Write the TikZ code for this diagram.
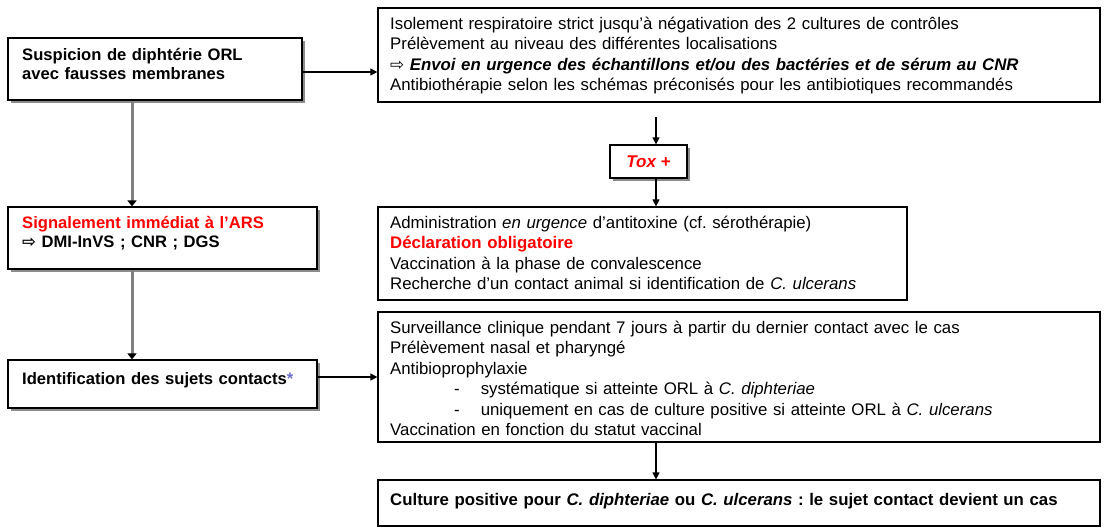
\documentclass[tikz,border=0pt]{standalone}
\usepackage{fontspec}
\setmainfont{Liberation Sans}
\newfontfamily\symfont{DejaVu Sans}
\usetikzlibrary{arrows.meta,shadows,calc}
\frenchspacing
\definecolor{redt}{RGB}{255,0,0}
\definecolor{starblue}{RGB}{110,110,210}
\newcommand{\rarr}{{\symfont\char"21E8}}
\tikzset{
  box/.style={draw=black, line width=1.2pt, fill=white, inner sep=0pt},
  shad/.style={drop shadow={shadow xshift=3pt, shadow yshift=-3pt, fill=black!45, opacity=1}},
  rtxt/.style={anchor=base west, inner sep=0pt, align=left, text width=700pt,
               font=\fontsize{16.8}{20.5}\selectfont},
  ltxt/.style={anchor=base west, inner sep=0pt, align=left, text width=290pt,
               font=\fontsize{16.6}{19.5}\selectfont\bfseries},
  arr/.style={line width=1.2pt, -{Triangle[length=7pt,width=7pt]}},
  garr/.style={line width=3pt, draw=black!50, -{Triangle[length=6pt,width=9pt,fill=black,color=black]}},
}
\begin{document}
\begin{tikzpicture}[x=1pt,y=-1pt]
\useasboundingbox (0,0) rectangle (1112,531);
% left column boxes
\node[box,shad,minimum width=294pt,minimum height=62pt] (b1) at (155,69) {};
\node[box,shad,minimum width=309pt,minimum height=62pt] (sig) at (162.5,238) {};
\node[box,shad,minimum width=309pt,minimum height=48pt] (id) at (162.5,384) {};
\node[ltxt] (b1t) at (22,60) {Suspicion de diphtérie ORL\\avec fausses membranes};
\node[ltxt] (sigt) at (22,228) {\textcolor{redt}{Signalement immédiat à l'ARS}\\\rarr{} DMI-InVS ; CNR ; DGS};
\node[ltxt] (idt) at (22,384) {Identification des sujets contacts\textcolor{starblue}{*}};
% right column boxes
\node[box,minimum width=722pt,minimum height=94pt] (b2) at (739,55) {};
\node[box,shad,minimum width=77pt,minimum height=33pt,font=\fontsize{17}{18}\selectfont\bfseries\itshape] (tox) at (648.5,161.5)
  {\textcolor{redt}{Tox +}};
\node[box,minimum width=529pt,minimum height=93pt] (b3) at (642.5,253.5) {};
\node[box,minimum width=722pt,minimum height=130pt] (b4) at (739,377) {};
\node[box,minimum width=722pt,minimum height=46pt] (b5) at (739,503) {};
\node[rtxt] (b2t) at (390,29)
  {Isolement respiratoire strict jusqu'à négativation des 2 cultures de contrôles\\
   Prélèvement au niveau des différentes localisations\\
   \rarr{} \textbf{\textit{Envoi en urgence des échantillons et/ou des bactéries et de sérum au CNR}}\\
   Antibiothérapie selon les schémas préconisés pour les antibiotiques recommandés};
\node[rtxt] (b3t) at (390,228)
  {Administration \textit{en urgence} d'antitoxine (cf. sérothérapie)\\
   \textcolor{redt}{\textbf{Déclaration obligatoire}}\\
   Vaccination à la phase de convalescence\\
   Recherche d'un contact animal si identification de \textit{C. ulcerans}};
\node[rtxt] (b4t) at (390,333)
  {Surveillance clinique pendant 7 jours à partir du dernier contact avec le cas\\
   Prélèvement nasal et pharyngé\\
   Antibioprophylaxie\\
   \hspace*{64pt}-\hspace*{21pt}systématique si atteinte ORL à \textit{C. diphteriae}\\
   \hspace*{64pt}-\hspace*{21pt}uniquement en cas de culture positive si atteinte ORL à \textit{C. ulcerans}\\
   Vaccination en fonction du statut vaccinal};
\node[rtxt,font=\fontsize{16.8}{20.5}\selectfont\bfseries] (b5t) at (390,505)
  {Culture positive pour \textit{C. diphteriae} ou \textit{C. ulcerans} : le sujet contact devient un cas};
% connectors
\coordinate (a1) at (656,117);
\draw[arr] (b1.east |- 0,72) -- (b2.west |- 0,72);
\draw[arr] (id.east |- 0,377) -- (b4.west |- 0,377);
\draw[arr] (a1) -- (a1 |- tox.north);
\draw[arr] (tox.south -| a1) -- (b3.north -| a1);
\draw[arr] (b4.south -| a1) -- (b5.north -| a1);
\draw[garr] (b1.south -| 132,0) -- (sig.north -| 132,0);
\draw[garr] (sig.south -| 132,0) -- (id.north -| 132,0);
\end{tikzpicture}
\end{document}
